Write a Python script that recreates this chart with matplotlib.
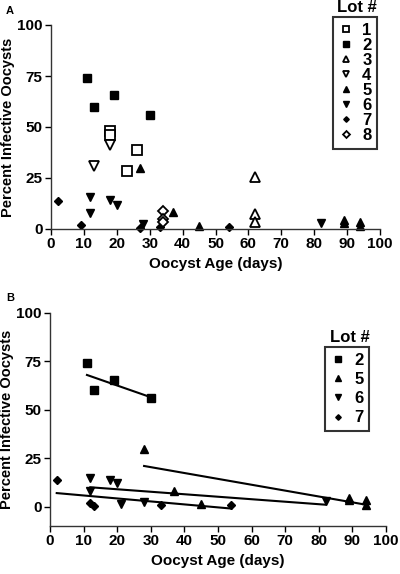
import matplotlib
matplotlib.use("Agg")
import matplotlib.pyplot as plt
from matplotlib.lines import Line2D

plt.rcParams['font.family'] = ['Liberation Sans', 'DejaVu Sans']
plt.rcParams['font.weight'] = 'bold'

# ---- panel A data (age in days, percent infective) ----
lot1_x = [18, 18, 23, 26];           lot1_y = [48, 46, 28.5, 38.5]
lot2_x = [11, 13, 19, 30];           lot2_y = [74, 60, 65.5, 56]
lot3_x = [62, 62, 62];               lot3_y = [25.5, 7.5, 3.5]
lot4_x = [13, 18];                   lot4_y = [31, 41]
lot5_x = [27, 37, 45, 89, 89, 94, 94]
lot5_y = [30, 8.5, 1.5, 4.5, 3, 3.5, 1.5]
lot6_x = [12, 12, 18, 20, 28, 82];   lot6_y = [15.5, 8, 14, 12, 2.5, 3]
lot7_x = [2, 9, 27, 33, 54];         lot7_y = [13.5, 2, 0.6, 1, 1]
lot8_x = [34, 34, 34];               lot8_y = [9, 5, 3.5]

# ---- panel B data ----
b2_x = [11, 13, 19, 30];             b2_y = [74, 60, 65.5, 56]
b5_x = [28, 37, 45, 89, 89, 94, 94]; b5_y = [30, 8, 1.5, 4.5, 3.5, 3.5, 1]
b6_x = [12, 12, 18, 20, 21, 28, 82]; b6_y = [15, 8, 14, 12, 1.5, 2.5, 3]
b7_x = [2, 12, 13, 33, 54];          b7_y = [13.5, 2, 0.5, 1, 1]

# regression line endpoints
fit2_x = [11, 30];  fit2_y = [68, 56.5]
fit5_x = [28, 94];  fit5_y = [21, 1]
fit6_x = [12, 82];  fit6_y = [10, 1]
fit7_x = [2, 54];   fit7_y = [7, -1]

filled = dict(color="black", mfc="black", mec="black", ls="none")
hollow = dict(color="black", mfc="white", mec="black", mew=1.3, ls="none")

series_a = [
    ("1", lot1_x, lot1_y, "s", 6.5, hollow),
    ("2", lot2_x, lot2_y, "s", 6, filled),
    ("3", lot3_x, lot3_y, "^", 6.5, hollow),
    ("4", lot4_x, lot4_y, "v", 6.5, hollow),
    ("5", lot5_x, lot5_y, "^", 6, filled),
    ("6", lot6_x, lot6_y, "v", 6, filled),
    ("7", lot7_x, lot7_y, "D", 4, filled),
    ("8", lot8_x, lot8_y, "D", 5, hollow),
]
series_b = [
    ("2", b2_x, b2_y, "s", 6, filled, fit2_x, fit2_y),
    ("5", b5_x, b5_y, "^", 6, filled, fit5_x, fit5_y),
    ("6", b6_x, b6_y, "v", 6, filled, fit6_x, fit6_y),
    ("7", b7_x, b7_y, "D", 4, filled, fit7_x, fit7_y),
]

W, H = 400, 574
fig = plt.figure(figsize=(W / 100, H / 100), dpi=100, facecolor="white")

def px_axes(left, top, right, bottom):
    return fig.add_axes([left / W, 1 - bottom / H, (right - left) / W, (bottom - top) / H])

def style(ax, ymin, width_px):
    ax.set_xlim(0, 100); ax.set_ylim(ymin, 100)
    ax.set_xticks(range(0, 101, 10)); ax.set_yticks([0, 25, 50, 75, 100])
    for s in ("top", "right"):
        ax.spines[s].set_visible(False)
    for s in ("left", "bottom"):
        ax.spines[s].set_linewidth(1.0); ax.spines[s].set_color("#333333")
    ax.tick_params(direction="out", length=4, width=1, labelsize=11, pad=2)
    for lab in ax.get_xticklabels() + ax.get_yticklabels():
        lab.set_fontweight("bold")
    ax.set_xlabel("Oocyst Age (days)", fontsize=11, fontweight="bold", labelpad=4)
    ax.set_ylabel("Percent Infective Oocysts", fontsize=10.5, fontweight="bold")
    ax.yaxis.set_label_coords(-36 / width_px, 0.5)

def legend_box(ax, handles, x, y, title_x, title_y, spacing):
    leg = ax.legend(handles=handles, loc="upper left", bbox_to_anchor=(x, y),
                    bbox_transform=fig.transFigure, frameon=True, fancybox=False,
                    edgecolor="black", fontsize=12, handlelength=0.8,
                    handletextpad=0.6, borderpad=0.35, labelspacing=spacing,
                    borderaxespad=0)
    leg.get_frame().set_linewidth(1.5)
    for t in leg.get_texts():
        t.set_fontweight("bold")
    # title sits above the box, not inside it
    fig.text(title_x, title_y, "Lot #", fontsize=12, fontweight="bold",
             ha="center", va="center")

# ---- panel A ----
axA = px_axes(51, 25, 380, 229)
for lab, x, y, m, ms, kw in series_a:
    axA.plot(x, y, marker=m, ms=ms, label=lab, clip_on=False, **kw)
style(axA, 0, 329)
hA = [Line2D([], [], marker=m, ms=ms * 0.7, label=lab, **kw)
      for lab, _, _, m, ms, kw in series_a]
legend_box(axA, hA, 333 / W, 1 - 17 / H, 357 / W, 1 - 8 / H, 0.0)
fig.text(6 / W, 1 - 11 / H, "A", fontsize=8, fontweight="bold", va="center")

# ---- panel B ----
axB = px_axes(50, 313, 386, 526)
for lab, x, y, m, ms, kw, fx, fy in series_b:
    axB.plot(x, y, marker=m, ms=ms, label=lab, clip_on=False, **kw)
    axB.plot(fx, fy, color="black", lw=1.5)
style(axB, -10, 336)
hB = [Line2D([], [], marker=m, ms=ms * 0.7, label=lab, **kw)
      for lab, _, _, m, ms, kw, _, _ in series_b]
legend_box(axB, hB, 325 / W, 1 - 347 / H, 350 / W, 1 - 338 / H, 0.25)
fig.text(6 / W, 1 - 298 / H, "B", fontsize=8, fontweight="bold", va="center")

fig.savefig("out.png", dpi=100)
